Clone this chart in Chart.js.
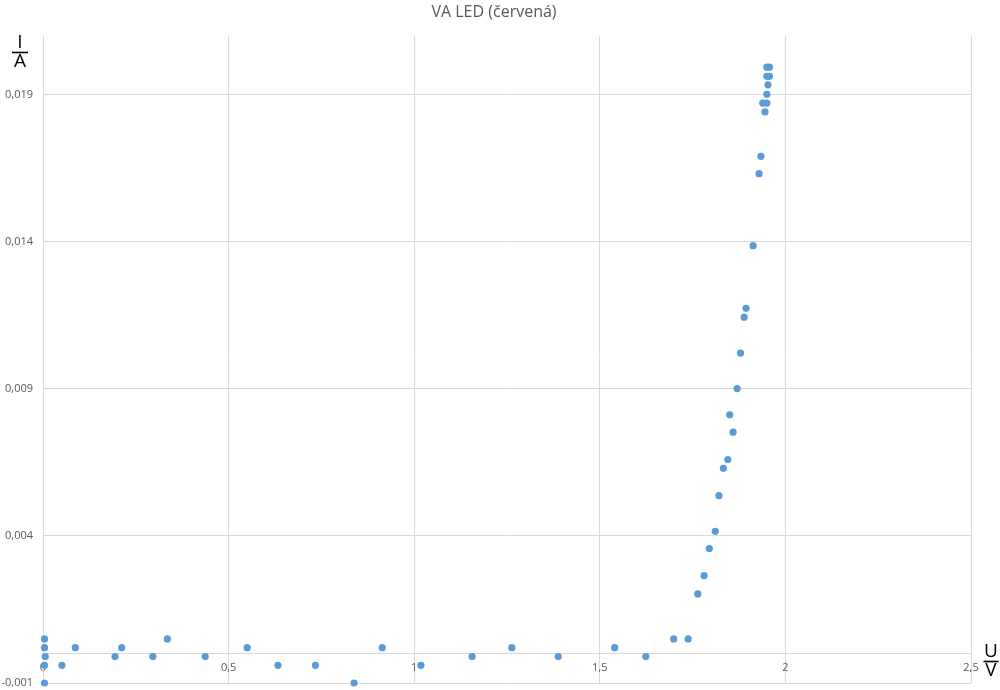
<!DOCTYPE html>
<html>
<head>
<meta charset="utf-8">
<script src="https://cdn.jsdelivr.net/npm/chart.js@4.4.1/dist/chart.umd.min.js"></script>
<style>
  html, body { margin: 0; padding: 0; background: #ffffff; }
  #wrap { width: 1000px; height: 690px; position: relative; }
</style>
</head>
<body>
<div id="wrap"><canvas id="c" width="1000" height="690"></canvas></div>
<script>
// ---- data ----
const chartTitle = 'VA LED (červená)';
const xTitleNum = 'U', xTitleDen = 'V';
const yTitleNum = 'I', yTitleDen = 'A';

// voltage U in volts
const voltage = [
  0.004, 0.004, 0.006, 0.004, 0.004,
  0.051, 0.087, 0.194, 0.212, 0.296, 0.335, 0.437, 0.550, 0.633, 0.734,
  0.838, 0.914, 1.018, 1.156, 1.263, 1.388, 1.540, 1.624, 1.699, 1.738,
  1.764, 1.781, 1.795, 1.811, 1.821, 1.833, 1.845, 1.859, 1.850, 1.870,
  1.879, 1.889, 1.894, 1.913, 1.929, 1.934, 1.945, 1.939, 1.950, 1.950,
  1.953, 1.950, 1.957, 1.950, 1.957
];
// current I in amperes
const current = [
  0.0005, 0.0002, -0.0001, -0.0004, -0.0010,
  -0.0004, 0.0002, -0.0001, 0.0002, -0.0001, 0.0005, -0.0001, 0.0002, -0.0004, -0.0004,
  -0.0010, 0.0002, -0.0004, -0.0001, 0.0002, -0.0001, 0.0002, -0.0001, 0.0005, 0.0005,
  0.00203, 0.00265, 0.00357, 0.00416, 0.00537, 0.00630, 0.00660, 0.00753, 0.00812, 0.00901,
  0.01022, 0.01144, 0.01174, 0.01387, 0.01632, 0.01691, 0.01842, 0.01872, 0.01872, 0.01902,
  0.01934, 0.01963, 0.01963, 0.01994, 0.01994
];

const xMin = 0, xMax = 2.5, xStep = 0.5;
const yMin = -0.001, yMax = 0.021;
const yTicks = [-0.001, 0.004, 0.009, 0.014, 0.019];

const points = voltage.map((u, i) => ({ x: u, y: current[i] }));

const fmt = v => String(Number(v.toFixed(6))).replace('.', ',');

const textPlugin = {
  id: 'textPlugin',
  afterDraw(chart) {
    const ctx = chart.ctx;
    // chart title
    ctx.save();
    ctx.fillStyle = '#595959';
    ctx.font = '16px "Open Sans", "Noto Sans", sans-serif';
    ctx.textAlign = 'center';
    ctx.textBaseline = 'alphabetic';
    ctx.fillText(chartTitle, 494, 17);
    ctx.restore();

    function frac(num, den, cx, barY, barW) {
      ctx.save();
      ctx.fillStyle = '#000000';
      ctx.strokeStyle = '#000000';
      ctx.font = '19px "Open Sans", "DejaVu Sans", sans-serif';
      ctx.textAlign = 'center';
      ctx.textBaseline = 'alphabetic';
      ctx.fillText(num, cx, barY - 4.5);
      ctx.textBaseline = 'top';
      ctx.fillText(den, cx, barY - 0.5);
      ctx.lineWidth = 1.6;
      ctx.beginPath();
      ctx.moveTo(cx - barW / 2, barY);
      ctx.lineTo(cx + barW / 2, barY);
      ctx.stroke();
      ctx.restore();
    }
    frac(yTitleNum, yTitleDen, 20, 52.5, 16);
    frac(xTitleNum, xTitleDen, 991, 661.5, 15);
  }
};

new Chart(document.getElementById('c'), {
  type: 'scatter',
  data: {
    datasets: [{
      label: chartTitle,
      data: points,
      backgroundColor: '#5B9BD5',
      borderColor: '#5B9BD5',
      pointRadius: 3.6,
      pointBorderWidth: 0,
      clip: false
    }]
  },
  options: {
    responsive: false,
    animation: false,
    devicePixelRatio: 1,
    layout: { padding: { left: 0, right: 29, top: 36, bottom: 7 } },
    plugins: {
      legend: { display: false },
      tooltip: { enabled: false },
      title: { display: false }
    },
    scales: {
      x: {
        type: 'linear',
        position: { y: 0 },
        min: xMin, max: xMax,
        afterFit: scale => {
          scale.height = 0;
          scale.paddingTop = 0; scale.paddingBottom = 0;
        },
        ticks: {
          stepSize: xStep,
          color: '#595959',
          font: { family: '"Open Sans", "Noto Sans", sans-serif', size: 11 },
          padding: 8,
          callback: v => fmt(v),
          maxRotation: 0
        },
        grid: { color: '#d9d9d9', drawTicks: false, lineWidth: 1 },
        border: { display: true, color: '#d9d9d9', width: 1 }
      },
      y: {
        type: 'linear',
        position: 'left',
        min: yMin, max: yMax,
        afterBuildTicks: scale => { scale.ticks = yTicks.map(v => ({ value: v })); },
        afterFit: scale => {
          scale.width = 43;
          scale.paddingTop = 0; scale.paddingBottom = 0;
        },
        ticks: {
          color: '#595959',
          font: { family: '"Open Sans", "Noto Sans", sans-serif', size: 11 },
          padding: 10,
          callback: v => fmt(v)
        },
        grid: { color: '#d9d9d9', drawTicks: false, lineWidth: 1 },
        border: { display: true, color: '#d9d9d9', width: 1 }
      }
    }
  },
  plugins: [textPlugin]
});
</script>
</body>
</html>
